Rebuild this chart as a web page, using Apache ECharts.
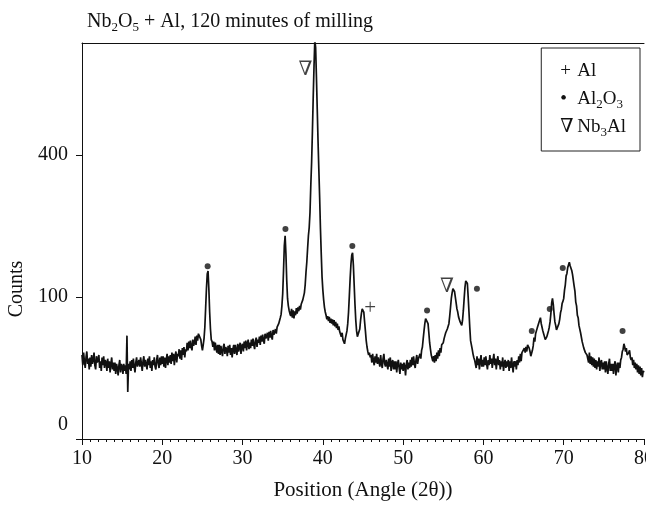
<!DOCTYPE html>
<html><head><meta charset="utf-8">
<script src="https://cdn.jsdelivr.net/npm/echarts@6/dist/echarts.min.js"></script>
<style>html,body{margin:0;padding:0;background:#fff}#c{width:646px;height:506px}</style>
</head><body><div id="c"></div>
<script>
// XRD scan: uniform steps from startAngle
const startAngle = 10;
const stepAngle = 0.1;
const counts = [
 35,27,37,30,25,33,38,28,32,24,
 33,26,35,28,31,37,27,24,34,29,
 31,35,25,30,23,33,27,34,25,31,
 29,23,32,25,30,22,28,33,24,29,
 23,29,21,28,25,20,27,31,22,28,
 26,21,28,23,27,21,53,11,28,24,
 30,23,31,25,32,26,22,29,33,26,
 25,31,26,33,28,23,30,34,26,31,
 30,24,32,27,34,25,30,23,31,27,
 33,26,24,31,35,28,25,33,27,34,
 28,34,26,33,25,31,36,27,34,29,
 35,28,37,30,36,27,34,38,29,36,
 34,40,32,39,31,41,35,42,33,40,
 38,46,39,47,41,48,42,39,49,43,
 46,52,44,53,48,55,57,56,49,43,
 39,44,50,62,85,112,135,140,112,80,
 60,49,47,42,47,39,46,41,37,44,
 36,44,35,43,38,34,42,45,36,42,
 40,34,43,37,44,35,41,33,40,44,
 36,44,39,35,45,38,42,46,36,43,
 45,38,47,41,48,39,45,49,40,46,
 41,49,43,50,44,40,48,51,42,49,
 46,52,44,53,47,54,48,45,55,50,
 50,56,48,57,51,58,52,49,59,54,
 54,60,55,62,61,66,67,73,77,88,
 105,140,185,205,170,125,98,88,82,78,
 75,84,73,82,72,81,76,85,78,86,
 81,88,83,90,89,96,97,106,118,138,
 155,180,205,222,255,320,380,470,580,690,
 790,760,650,540,440,360,290,220,170,130,
 110,96,86,80,76,71,75,69,74,67,
 72,66,71,64,70,63,68,61,66,59,
 63,57,56,52,56,49,48,45,50,52,
 58,66,80,102,128,152,168,172,150,118,
 90,70,58,52,50,52,60,70,78,84,
 85,80,68,58,48,42,38,35,37,33,
 35,29,36,30,27,34,29,36,28,33,
 32,26,35,28,25,32,36,28,26,31,
 30,24,32,26,33,23,29,31,24,30,
 24,30,22,28,31,25,21,29,24,28,
 23,29,26,20,28,31,24,29,25,31,
 26,33,27,34,28,25,31,35,28,32,
 32,36,32,39,42,50,58,66,72,73,
 74,66,56,46,40,35,34,30,34,29,
 35,30,37,32,39,34,41,37,44,43,
 46,50,53,56,58,60,62,66,75,86,
 98,106,112,115,108,100,92,84,80,74,
 72,68,66,64,70,82,98,114,124,127,
 120,100,80,62,48,44,40,36,33,31,
 31,25,34,27,32,24,30,35,26,31,
 26,33,27,34,28,24,31,27,35,28,
 32,25,31,36,27,32,24,30,34,27,
 31,24,30,26,33,23,28,31,25,30,
 26,31,23,30,25,33,27,22,30,26,
 30,24,31,27,34,29,36,30,37,38,
 36,41,37,42,38,44,45,41,38,34,
 34,39,43,51,47,55,58,61,59,67,
 70,73,66,62,58,55,52,49,48,52,
 55,58,62,68,78,92,98,90,78,68,
 64,59,61,57,66,71,79,83,91,94,
 98,110,118,132,136,146,148,155,149,146,
 141,134,131,116,108,93,88,76,73,64,
 63,56,54,47,46,41,42,37,38,35,
 35,29,37,28,34,27,33,26,32,25,
 31,24,30,26,33,23,29,31,24,29,
 24,30,22,30,25,21,28,32,23,28,
 23,28,21,27,30,20,26,29,22,29,
 25,31,33,38,40,45,42,38,41,35,
 34,37,39,33,31,33,27,31,25,29,
 24,28,22,27,21,26,20,25,19,23,
 22
];
const xMin = 10, xMax = 80, xStep = 10;
const yTickLabels = [0, 100, 400];
const yMaxCounts = 778;
// peak markers [angle, counts]
const al2o3Marks = [[25.65,148],[35.34,219],[43.67,185],[52.98,82],[59.19,112],[66.02,58],[68.26,84],[69.88,145],[77.33,58]];
const alMarks = [[45.9,84]];
const nb3alMarks = [[37.83,675],[55.47,115]];

const FONT = '"Liberation Serif", "DejaVu Serif", serif';
const sq = v => Math.sqrt(v);
const lineData = counts.map((c, i) => [+(startAngle + i * stepAngle).toFixed(2), sq(c)]);
const toPts = arr => arr.map(p => [p[0], sq(p[1])]);
const yTickVals = yTickLabels.map(sq);

const chart = echarts.init(document.getElementById('c'), null, {renderer: 'canvas'});
const subStyle = {fontSize: 13, lineHeight: 13, verticalAlign: 'bottom', fontFamily: FONT, color: '#111'};
chart.setOption({
  animation: false,
  backgroundColor: '#fff',
  title: {
    text: 'Nb{sub|2}O{sub|5} + Al, 120 minutes of milling',
    left: 82, top: 5,
    textStyle: {fontFamily: FONT, fontSize: 20, fontWeight: 'normal', color: '#111', lineHeight: 24,
      rich: {sub: subStyle}}
  },
  legend: {
    data: ['Al', 'Al2O3', 'Nb3Al'],
    orient: 'vertical', right: 6, top: 48,
    borderColor: '#222', borderWidth: 1,
    padding: [12, 14, 12, 14],
    itemWidth: 0, itemHeight: 0, itemGap: 5,
    selectedMode: false,
    textStyle: {fontFamily: FONT, fontSize: 19, color: '#111', lineHeight: 23,
      rich: {sub: subStyle, sym: {fontFamily: FONT, fontSize: 19, width: 17, color: '#111'}}},
    formatter: function (name) {
      if (name === 'Al') return '{sym|+}Al';
      if (name === 'Al2O3') return '{sym|•}Al{sub|2}O{sub|3}';
      return '{sym|∇}Nb{sub|3}Al';
    }
  },
  grid: {left: 82, right: 2, top: 43, bottom: 67, containLabel: false, outerBoundsMode: 'none'},
  xAxis: [{
    type: 'value', min: xMin, max: xMax, interval: xStep,
    name: 'Position (Angle (2θ))', nameLocation: 'middle', nameGap: 41,
    nameTextStyle: {fontFamily: FONT, fontSize: 21, color: '#111'},
    axisLine: {lineStyle: {color: '#111', width: 1}},
    axisTick: {show: true, length: 6, inside: false, lineStyle: {color: '#111'}},
    minorTick: {show: true, splitNumber: 10, length: 3, lineStyle: {color: '#111'}},
    splitLine: {show: false},
    axisLabel: {fontFamily: FONT, fontSize: 20, color: '#111', margin: 10, hideOverlap: false}
  }, {
    type: 'value', position: 'top', min: xMin, max: xMax,
    axisLine: {show: true, lineStyle: {color: '#111', width: 1}},
    axisTick: {show: false}, axisLabel: {show: false}, splitLine: {show: false}
  }],
  yAxis: {
    type: 'value', min: 0, max: sq(yMaxCounts), interval: 10,
    name: 'Counts', nameLocation: 'middle', nameGap: 52,
    nameTextStyle: {fontFamily: FONT, fontSize: 20, color: '#111', padding: [0, 96, 0, 0]},
    axisLine: {show: true, lineStyle: {color: '#111', width: 1}},
    axisTick: {show: true, length: 6, lineStyle: {color: '#111'}, customValues: yTickVals},
    splitLine: {show: false},
    axisLabel: {
      fontFamily: FONT, fontSize: 20, color: '#111', margin: 14,
      customValues: yTickVals,
      formatter: function (v) {
        const c = Math.round(v * v);
        if (yTickLabels.indexOf(c) < 0) return '';
        return c === 0 ? '{z|0}' : String(c);
      },
      rich: {z: {fontFamily: FONT, fontSize: 20, color: '#111', padding: [0, 0, 28, 0]}}
    }
  },
  series: [{
    type: 'line', name: 'scan', data: lineData, showSymbol: false, symbol: 'none',
    lineStyle: {color: '#111', width: 1.7}, silent: true, z: 2, clip: true
  }, {
    type: 'scatter', name: 'Al', data: toPts(alMarks), symbol: 'circle', symbolSize: 1,
    itemStyle: {color: 'rgba(0,0,0,0)'}, silent: true,
    label: {show: true, position: 'inside', formatter: '+', fontFamily: FONT, fontSize: 21, color: '#111'}
  }, {
    type: 'scatter', name: 'Al2O3', data: toPts(al2o3Marks), symbol: 'circle', symbolSize: 6,
    itemStyle: {color: '#111'}, silent: true
  }, {
    type: 'scatter', name: 'Nb3Al', data: toPts(nb3alMarks), symbol: 'circle', symbolSize: 1,
    itemStyle: {color: 'rgba(0,0,0,0)'}, silent: true,
    label: {show: true, position: 'inside', formatter: '∇', fontFamily: FONT, fontSize: 20, color: '#111'}
  }]
});
</script>
</body></html>
